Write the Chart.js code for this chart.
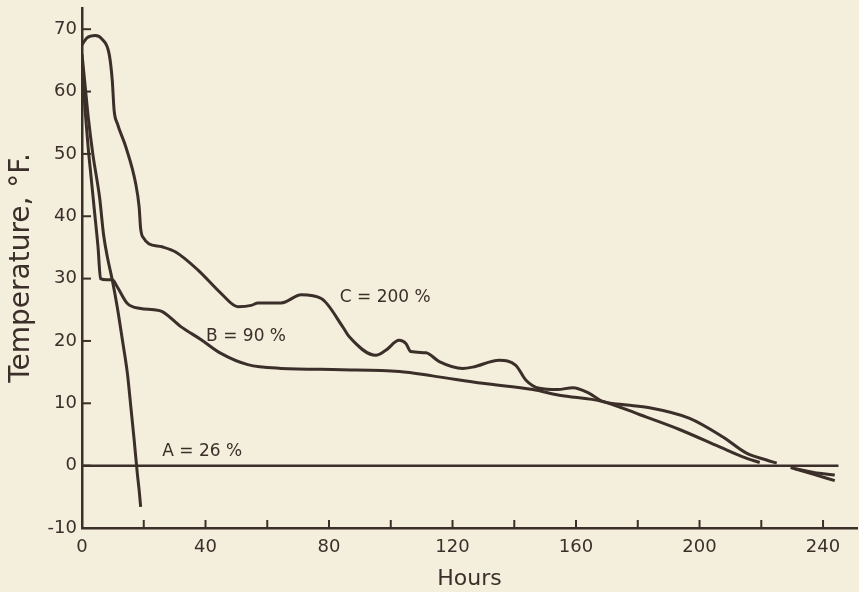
<!DOCTYPE html>
<html>
<head>
<meta charset="utf-8">
<script src="https://cdn.jsdelivr.net/npm/chart.js@4.4.1/dist/chart.umd.min.js"></script>
<style>
  html, body { margin: 0; padding: 0; background: #f3efdc; }
  #wrap { width: 859px; height: 592px; position: relative; }
</style>
</head>
<body>
<div id="wrap"><canvas id="c"></canvas></div>
<script>
// Hours / temperature (°F)
const curveA = [[0,66],[1,61],[2,56],[3.5,50],[5.7,43],[7,37],[8.2,33.5],[9.8,29.8],[11.4,25.5],[13.1,20.1],[14.7,14.8],[15.8,9.5],[16.9,4.1],[17.9,-1.2],[18.5,-3.9],[19,-6.6]];
const curveB = [[0,64],[1,57],[2,51],[3,46],[4,41],[5.2,35],[6,30],[8,29.8],[9.8,29.8],[11.4,28.7],[14.7,26],[19,25.2],[23.3,25],[26,24.7],[32,22.3],[38.6,20.2],[45,18],[53.7,16.2],[64.5,15.6],[84,15.4],[102.8,15.1],[113.5,14.4],[129.8,13.2],[146,12.2],[154.6,11.3],[168.6,10.3],[180.5,8.2],[193.5,5.8],[206.5,3],[214,1.4],[219.5,0.5]];
const curveC = [[0,67.5],[1.6,68.6],[4.3,69],[6.5,68.4],[8.8,66],[9.8,61.8],[10.4,57],[11.5,54.8],[14.2,51.1],[17.4,45.2],[18.5,41.5],[19,38],[20.1,36.4],[21.6,35.6],[25.9,35.1],[30.2,34.3],[37.5,31.4],[45.1,27.6],[50.5,25.5],[54.8,25.7],[57,26.1],[64.5,26.1],[71,27.4],[77.5,26.8],[84.4,22.3],[86.5,20.7],[95.2,17.7],[98.4,18.5],[102.7,20.1],[104.9,19.6],[106.5,18.3],[111.4,18.1],[115.7,16.7],[123.3,15.6],[126.5,15.8],[135.1,16.9],[140.5,16.1],[143.8,13.7],[148.1,12.4],[154,12.2],[159,12.5],[164.3,11.6],[168.6,10.3],[175,9.8],[183.8,9.3],[196.8,7.6],[207.6,4.6],[215.2,2],[221.7,0.9],[225,0.4]];
const tailB = [[231,-0.5],[237,-1.1],[243.8,-1.5]];
const tailC = [[229.5,-0.3],[237,-1.4],[243.8,-2.4]];
const zeroLine = [[0,0],[245,0]];

const xTicks = [0, 20, 40, 60, 80, 100, 120, 140, 160, 180, 200, 220, 240];
const yTicks = [-10, 0, 10, 20, 30, 40, 50, 60, 70];

const labels = [
  { text: "A = 26 %", x: 26, y: 2.3 },
  { text: "B = 90 %", x: 40.2, y: 20.7 },
  { text: "C = 200 %", x: 83.5, y: 27 },
];

const ink = "#3c2f2a";
const pts = arr => arr.map(([x, y]) => ({ x, y }));

function line(data, width) {
  return {
    data: pts(data),
    borderColor: ink,
    borderWidth: width || 3,
    pointRadius: 0,
    fill: false,
    cubicInterpolationMode: "monotone",
  };
}

// inward tick marks + curve labels
const extras = {
  id: "extras",
  afterDraw(chart) {
    const ctx = chart.ctx;
    const xs = chart.scales.x, ys = chart.scales.y;
    ctx.save();
    ctx.strokeStyle = ink;
    ctx.lineWidth = 2;
    xs.ticks.forEach(t => {
      const px = xs.getPixelForValue(t.value);
      ctx.beginPath();
      ctx.moveTo(px, ys.bottom);
      ctx.lineTo(px, ys.bottom - 8);
      ctx.stroke();
    });
    ys.ticks.forEach(t => {
      const py = ys.getPixelForValue(t.value);
      ctx.beginPath();
      ctx.moveTo(xs.left, py);
      ctx.lineTo(xs.left + 9, py);
      ctx.stroke();
    });
    ctx.fillStyle = ink;
    ctx.font = "17px 'DejaVu Sans'";
    ctx.textBaseline = "middle";
    labels.forEach(l => {
      ctx.fillText(l.text, xs.getPixelForValue(l.x), ys.getPixelForValue(l.y));
    });
    ctx.restore();
  },
};

new Chart(document.getElementById("c"), {
  type: "line",
  data: {
    datasets: [
      line(zeroLine, 2.5),
      line(curveA),
      line(curveB),
      line(curveC),
      line(tailB),
      line(tailC),
    ],
  },
  options: {
    responsive: true,
    maintainAspectRatio: false,
    animation: false,
    layout: { padding: { top: 8, right: 2, left: 0, bottom: 0 } },
    plugins: { legend: { display: false }, tooltip: { enabled: false } },
    scales: {
      x: {
        type: "linear",
        min: 0,
        max: 251,
        afterFit: s => { s.height = 64; s.paddingLeft = 0; s.paddingRight = 0; },
        afterBuildTicks: s => { s.ticks = xTicks.map(v => ({ value: v })); },
        ticks: {
          color: ink,
          font: { family: "DejaVu Sans", size: 18 },
          padding: 9,
          maxRotation: 0,
          autoSkip: false,
          callback: v => (v % 40 === 0 ? String(v) : ""),
        },
        grid: { display: false, drawTicks: false },
        border: { display: true, color: ink, width: 2.5 },
        title: {
          display: true,
          text: "Hours",
          color: ink,
          font: { family: "DejaVu Sans", size: 22 },
          padding: { top: 0, bottom: 0 },
        },
      },
      y: {
        min: -10,
        max: 73.4,
        afterFit: s => { s.width = 82; s.paddingTop = 0; s.paddingBottom = 0; },
        afterBuildTicks: s => { s.ticks = yTicks.map(v => ({ value: v })); },
        ticks: {
          color: ink,
          font: { family: "DejaVu Sans", size: 18 },
          padding: 5,
          autoSkip: false,
        },
        grid: { display: false, drawTicks: false },
        border: { display: true, color: ink, width: 2.5 },
        title: {
          display: true,
          text: "Temperature, °F.",
          color: ink,
          font: { family: "DejaVu Sans", size: 28 },
          padding: { top: 5, bottom: 0 },
        },
      },
    },
  },
  plugins: [extras],
});
</script>
</body>
</html>
